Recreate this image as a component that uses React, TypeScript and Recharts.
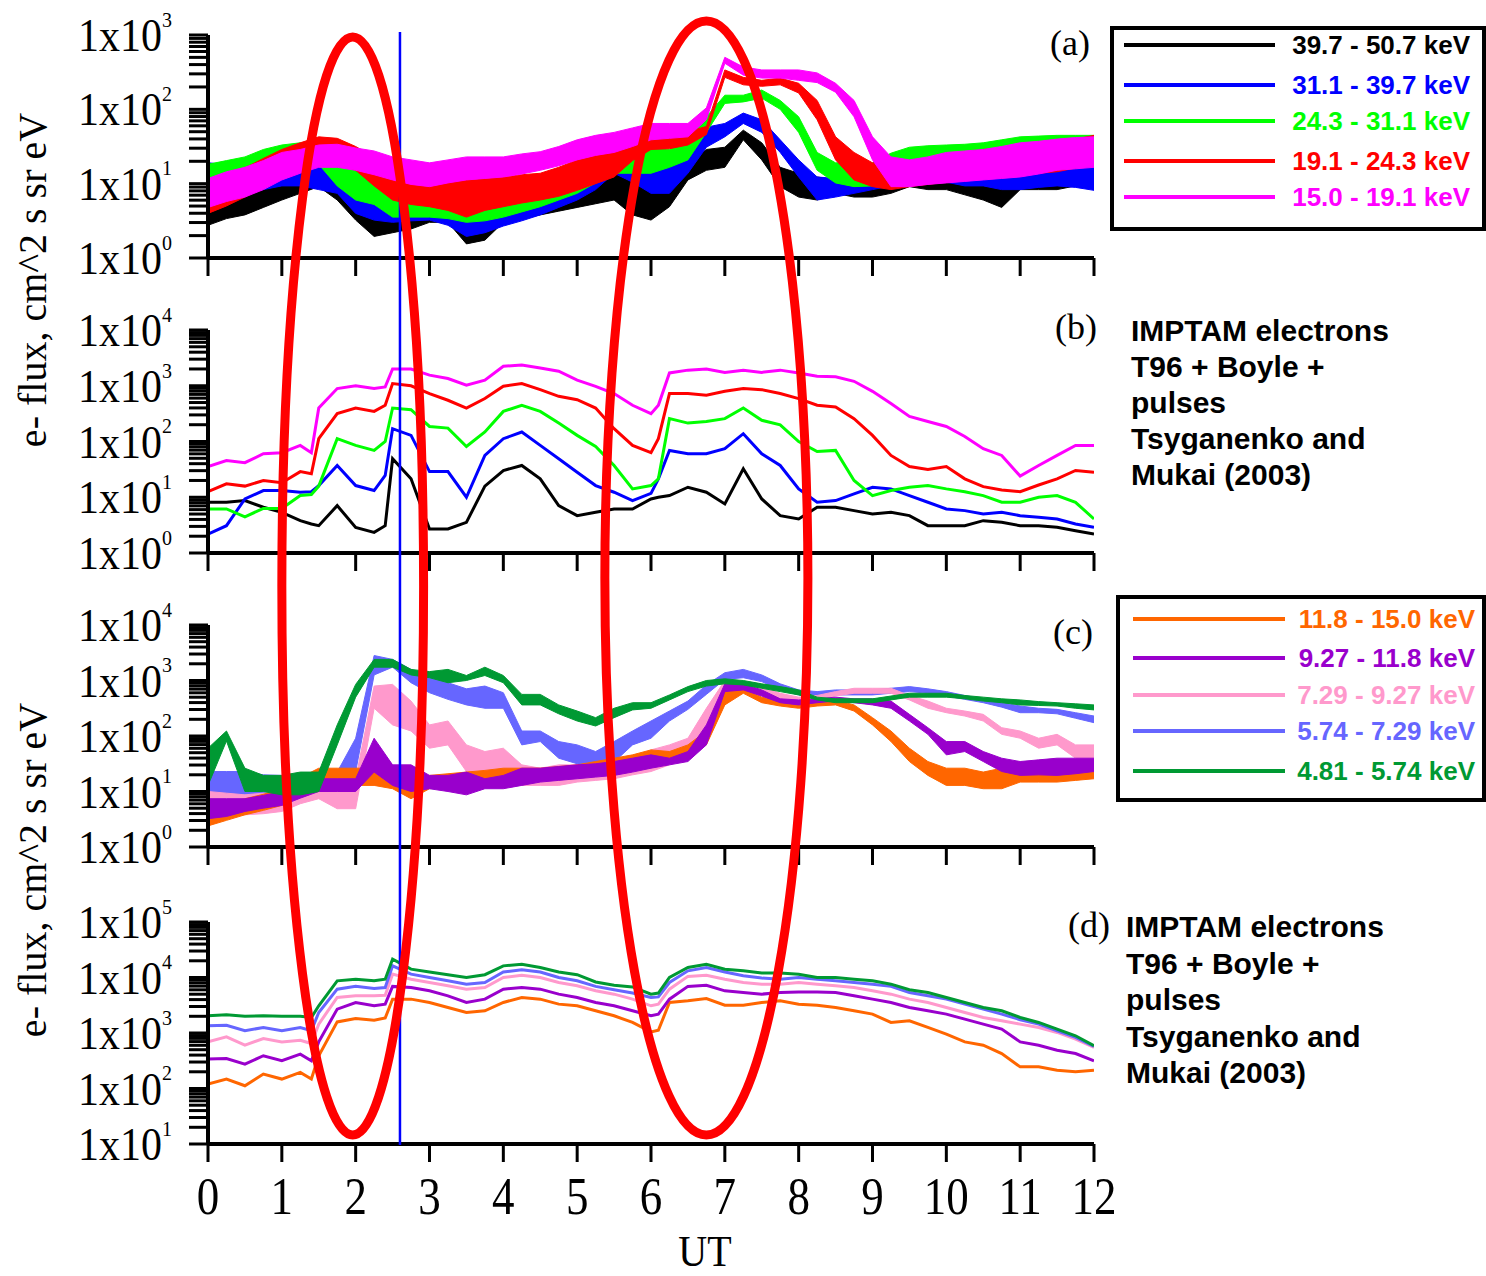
import React from "react";
import { Area, ComposedChart, Legend, Line, XAxis, YAxis } from "recharts";

const SERIF = "'Liberation Serif', 'Times New Roman', serif";
const SANS = "'Liberation Sans', Arial, sans-serif";

const PAGE_W = 1486;
const PAGE_H = 1276;
const PLOT_L = 208;
const PLOT_R = 1094;

const utTicks = [0, 1, 2, 3, 4, 5, 6, 7, 8, 9, 10, 11, 12];
const decadesA = [0, 1, 2, 3];
const decadesB = [0, 1, 2, 3, 4];
const decadesC = [0, 1, 2, 3, 4];
const decadesD = [1, 2, 3, 4, 5];

// sample times, UT hours
const hoursAC = [
  0, 0.25, 0.5, 0.75, 1, 1.25, 1.5, 1.75, 2, 2.25, 2.5, 2.75, 3, 3.25, 3.5, 3.75,
  4, 4.25, 4.5, 4.75, 5, 5.25, 5.5, 5.75, 6, 6.25, 6.5, 6.75, 7, 7.25, 7.5, 7.75,
  8, 8.25, 8.5, 8.75, 9, 9.25, 9.5, 9.75, 10, 10.25, 10.5, 10.75, 11, 11.25, 11.5, 11.75, 12,
];
const hoursBD = [
  0, 0.25, 0.5, 0.75, 1, 1.25, 1.4, 1.5, 1.75, 2, 2.25, 2.4, 2.5, 2.75,
  3, 3.25, 3.5, 3.75, 4, 4.25, 4.5, 4.75, 5, 5.25, 5.5, 5.75, 6, 6.1, 6.25, 6.5, 6.75,
  7, 7.25, 7.5, 7.75, 8, 8.25, 8.5, 8.75, 9, 9.25, 9.5, 9.75, 10, 10.25, 10.5, 10.75,
  11, 11.25, 11.5, 11.75, 12,
];

// All flux values are log10(flux).
// Measured traces are noisy, so they are kept as a lower / upper edge pair.

// (a) measured, 15 - 50.7 keV
const aBlkLo = [0.44,0.53,0.58,0.68, 0.78,0.87,0.96,0.78, 0.51,0.29,0.34,0.39, 0.48,0.48,0.19,0.24, 0.48,0.53,0.58,0.63, 0.68,0.73,0.78,0.58, 0.51,0.69,1.05,1.18, 1.22,1.59,1.32,0.96, 0.82,0.78,0.87,0.82, 0.82,0.87,0.96,0.92, 0.92,0.85,0.78,0.68, 0.92,0.92,0.92,0.97, 1.02];
const aBlkHi = [0.92,0.95,0.97,0.99, 1.02,1.09,1.14,1.09, 1.05,0.87,0.78,0.78, 0.78,0.68,0.6,0.6, 0.68,0.78,0.87,0.92, 0.97,1.07,1.16,1.07, 1.01,1.01,1.28,1.46, 1.49,1.72,1.55,1.22, 1.14,1.09,1.05,1.07, 1.07,1.12,1.14,1.12, 1.09,1.09,1.09,1.12, 1.18,1.2,1.21,1.24, 1.26];
const aBluLo = [1.02,0.97,0.87,0.92, 0.97,0.97,0.92,0.87, 0.6,0.51,0.48,0.5, 0.51,0.44,0.29,0.34, 0.43,0.5,0.58,0.68, 0.78,0.92,1.14,1.02, 0.87,0.87,1.14,1.49, 1.63,1.81,1.69,1.42, 1.09,0.78,0.82,0.87, 0.92,0.97,1.02,1.02, 1.02,0.97,0.97,0.92, 0.92,0.95,0.97,0.95, 0.91];
const aBluHi = [1.28,1.26,1.26,1.31, 1.36,1.34,1.31,1.18, 1.09,0.96,0.87,0.82, 0.78,0.78,0.78,0.8, 0.82,0.89,0.97,1.07, 1.16,1.26,1.42,1.36, 1.28,1.24,1.49,1.76, 1.81,1.95,1.86,1.59, 1.32,1.09,1.07,1.16, 1.26,1.36,1.41,1.38, 1.36,1.32,1.26,1.26, 1.26,1.26,1.26,1.28, 1.28];
const aGrnLo = [0.78,0.82,0.87,1.02, 1.16,1.21,1.26,0.97, 0.78,0.72,0.55,0.55, 0.55,0.53,0.48,0.5, 0.55,0.62,0.69,0.78, 0.87,1.01,1.14,1.14, 1.14,1.22,1.32,1.69, 2.08,2.1,2.15,2.0, 1.69,1.18,1.01,0.96, 0.97,1.07,1.22,1.26, 1.32,1.3,1.26,1.34, 1.41,1.41,1.41,1.38, 1.36];
const aGrnHi = [1.26,1.31,1.36,1.46, 1.52,1.55,1.55,1.41, 1.18,1.14,1.01,0.97, 0.97,0.96,0.96,0.97, 1.01,1.03,1.05,1.16, 1.32,1.41,1.49,1.49, 1.49,1.46,1.59,1.9, 2.19,2.19,2.26,2.12, 1.9,1.42,1.28,1.28, 1.28,1.41,1.49,1.51, 1.52,1.53,1.55,1.59, 1.63,1.64,1.65,1.65, 1.65];
const aRedLo = [0.6,0.7,0.82,0.95, 1.07,1.16,1.26,1.26, 1.18,0.97,0.78,0.72, 0.69,0.64,0.55,0.64, 0.69,0.74,0.78,0.83, 0.91,1.0,1.09,1.31, 1.46,1.47,1.52,1.66, 2.43,2.33,2.31,2.33, 2.22,1.86,1.32,1.05, 0.96,0.92,0.96,0.99, 1.02,1.05,1.07,1.09, 1.12,1.14,1.16,1.21, 1.26];
const aRedHi = [1.02,1.12,1.21,1.34, 1.46,1.55,1.63,1.61, 1.5,1.36,1.22,1.12, 1.05,1.07,1.05,1.07, 1.09,1.12,1.14,1.22, 1.32,1.41,1.49,1.6, 1.69,1.69,1.7,1.77, 2.53,2.43,2.39,2.42, 2.35,2.12,1.63,1.42, 1.28,1.28,1.28,1.32, 1.36,1.41,1.46,1.47, 1.5,1.53,1.55,1.6, 1.65];
const aMagLo = [0.68,0.76,0.82,0.92, 1.05,1.14,1.22,1.22, 1.18,1.12,1.05,0.99, 0.96,1.01,1.05,1.07, 1.09,1.13,1.18,1.24, 1.32,1.38,1.42,1.5, 1.59,1.61,1.63,1.86, 2.62,2.46,2.42,2.42, 2.39,2.36,2.23,1.9, 1.32,0.96,0.96,0.99, 1.01,1.03,1.05,1.07, 1.09,1.13,1.18,1.2, 1.22];
const aMagHi = [1.07,1.16,1.22,1.31, 1.42,1.46,1.52,1.53, 1.48,1.44,1.36,1.32, 1.28,1.32,1.36,1.36, 1.36,1.4,1.43,1.5, 1.59,1.65,1.69,1.75, 1.81,1.81,1.81,2.02, 2.7,2.57,2.53,2.53, 2.53,2.49,2.35,2.12, 1.63,1.36,1.32,1.36, 1.42,1.44,1.46,1.5, 1.55,1.57,1.6,1.62, 1.63];

// (b) IMPTAM model, same channels
const bBlk = [0.91,0.91,0.94,0.82,0.73,0.58, 0.52,0.49,0.85, 0.46,0.37,0.49,1.69,1.33, 0.43,0.43,0.55,1.2, 1.48,1.57,1.33,0.85, 0.67,0.73,0.79,0.79, 0.97,1.0,1.03,1.18,1.09, 0.88,1.51,0.97,0.67, 0.61,0.82,0.82,0.76, 0.7,0.73,0.67,0.49, 0.49,0.49,0.58,0.55, 0.49,0.49,0.46,0.4, 0.34];
const bBlu = [0.34,0.49,0.97,1.12,1.12,1.09, 1.1,1.21,1.57, 1.21,1.12,1.39,2.23,2.11, 1.46,1.46,1.0,1.75, 2.05,2.17,1.93,1.69, 1.45,1.21,1.09,0.94, 1.07,1.33,1.84,1.78,1.78, 1.87,2.14,1.78,1.57, 1.15,0.91,0.94,1.06, 1.18,1.15,1.03,0.91, 0.79,0.76,0.7,0.73, 0.67,0.64,0.61,0.52, 0.46];
const bGrn = [0.79,0.79,0.65,0.8,0.8,1.03, 1.05,1.2,2.05, 1.93,1.84,2.0,2.6,2.57, 2.27,2.24,1.91,2.17, 2.54,2.65,2.54,2.33, 2.11,1.91,1.57,1.15, 1.21,1.33,2.41,2.33,2.36, 2.41,2.6,2.38,2.3, 2.0,1.82,1.84,1.3, 1.03,1.12,1.18,1.21, 1.15,1.1,1.03,0.91, 0.91,1.0,1.03,0.91, 0.61];
const bRed = [1.1,1.24,1.2,1.3,1.26,1.46, 1.42,2.05,2.5, 2.6,2.54,2.65,3.04,3.0, 2.86,2.74,2.6,2.77, 2.99,3.04,2.93,2.81, 2.75,2.6,2.23,1.93, 1.8,2.05,2.86,2.86,2.83, 2.9,2.95,2.93,2.86, 2.77,2.65,2.62,2.41, 2.11,1.75,1.55,1.5, 1.55,1.33,1.19,1.13, 1.1,1.22,1.33,1.48, 1.45];
const bMag = [1.55,1.66,1.62,1.78,1.8,1.93, 1.8,2.6,2.95, 3.0,2.95,2.98,3.3,3.3, 3.19,3.13,3.01,3.1, 3.35,3.37,3.32,3.26, 3.1,2.99,2.86,2.65, 2.5,2.65,3.23,3.28,3.3, 3.24,3.28,3.24,3.28, 3.23,3.17,3.16,3.08, 2.9,2.68,2.45,2.36, 2.27,2.09,1.87,1.75, 1.38,1.57,1.75,1.93, 1.93];

// (c) measured, 4.81 - 15.0 keV
const cOrgLo = [0.38,0.48,0.58,0.66, 0.75,0.95,1.11,1.11, 1.11,1.11,1.05,0.87, 1.05,1.08,1.11,1.14, 1.17,1.18,1.2,1.23, 1.26,1.3,1.36,1.42, 1.54,1.54,1.6,1.84, 2.56,2.77,2.6,2.54, 2.5,2.54,2.56,2.45, 2.2,1.9,1.54,1.29, 1.11,1.11,1.05,1.05, 1.17,1.17,1.17,1.2, 1.23];
const cOrgHi = [0.75,0.8,0.87,0.95, 1.05,1.25,1.42,1.42, 1.42,1.42,1.35,1.23, 1.29,1.32,1.35,1.38, 1.42,1.42,1.42,1.45, 1.48,1.54,1.6,1.66, 1.75,1.72,1.84,2.09, 2.87,2.86,2.7,2.63, 2.6,2.63,2.65,2.56, 2.33,2.09,1.78,1.54, 1.42,1.42,1.35,1.42, 1.42,1.42,1.42,1.44, 1.45];
const cPurLo = [0.51,0.55,0.64,0.7, 0.75,0.88,1.0,1.0, 1.0,1.35,1.11,1.0, 1.05,1.0,0.94,1.05, 1.05,1.11,1.17,1.2, 1.23,1.26,1.29,1.35, 1.42,1.48,1.54,1.84, 2.8,2.83,2.72,2.6, 2.56,2.6,2.63,2.6, 2.56,2.5,2.27,2.03, 1.66,1.72,1.54,1.36, 1.29,1.3,1.29,1.32, 1.36];
const cPurHi = [0.87,0.87,0.87,0.93, 1.0,1.12,1.23,1.23, 1.23,1.96,1.48,1.48, 1.29,1.29,1.35,1.23, 1.29,1.42,1.42,1.45, 1.48,1.5,1.54,1.6, 1.66,1.6,1.72,2.2, 2.94,2.94,2.83,2.67, 2.65,2.67,2.7,2.67, 2.67,2.63,2.39,2.15, 1.9,1.9,1.72,1.6, 1.54,1.57,1.6,1.6, 1.6];
const cPnkLo = [0.51,0.55,0.58,0.6, 0.64,0.78,0.87,0.69, 0.69,2.5,2.2,2.09, 1.78,1.84,1.36,1.23, 1.3,1.11,1.11,1.11, 1.17,1.2,1.23,1.3, 1.36,1.48,1.6,1.96, 2.86,2.83,2.77,2.65, 2.63,2.65,2.72,2.77, 2.77,2.77,2.65,2.5, 2.42,2.36,2.27,2.03, 1.96,1.78,1.84,1.6, 1.6];
const cPnkHi = [1.0,0.97,0.94,0.97, 1.0,1.15,1.29,1.11, 1.23,2.9,2.93,2.63, 2.2,2.27,1.84,1.72, 1.78,1.48,1.42,1.48, 1.48,1.5,1.54,1.6, 1.75,1.84,1.96,2.5, 3.0,2.94,2.89,2.77, 2.7,2.73,2.8,2.86, 2.86,2.86,2.73,2.63, 2.5,2.45,2.39,2.15, 2.09,1.96,2.03,1.84, 1.84];
const cPerLo = [0.87,0.9,0.94,0.9, 0.87,0.95,1.0,1.05, 1.36,3.1,3.24,2.96, 2.78,2.66,2.56,2.5, 2.5,1.84,1.9,1.6, 1.5,1.36,1.53,1.84, 1.96,2.27,2.48,2.75, 3.02,3.05,2.98,2.83, 2.74,2.72,2.74,2.74, 2.74,2.77,2.8,2.77, 2.72,2.66,2.6,2.52, 2.42,2.42,2.4,2.32, 2.24];
const cPerHi = [1.36,1.36,1.36,1.3, 1.29,1.32,1.35,1.35, 1.96,3.45,3.38,3.2, 3.05,2.96,2.85,2.9, 2.78,2.09,2.09,1.9, 1.84,1.72,1.9,2.09, 2.27,2.45,2.63,2.92, 3.14,3.2,3.1,2.94, 2.83,2.8,2.83,2.83, 2.83,2.86,2.89,2.85, 2.8,2.73,2.67,2.6, 2.54,2.5,2.48,2.42, 2.36];
const cGrnLo = [1.11,1.91,1.0,1.0, 0.94,0.94,1.0,1.84, 2.7,3.24,3.24,3.1, 3.05,2.96,3.0,3.09, 2.96,2.56,2.56,2.4, 2.27,2.18,2.33,2.47, 2.5,2.65,2.8,2.9, 2.94,2.92,2.86,2.8, 2.74,2.65,2.6,2.6, 2.6,2.65,2.7,2.7, 2.7,2.67,2.63,2.6, 2.56,2.55,2.54,2.5, 2.47];
const cGrnHi = [1.78,2.09,1.42,1.29, 1.29,1.35,1.35,2.2, 2.93,3.38,3.38,3.2, 3.16,3.2,3.09,3.24, 3.09,2.75,2.75,2.56, 2.45,2.33,2.5,2.6, 2.6,2.74,2.89,3.0, 3.03,3.0,2.94,2.89, 2.83,2.7,2.67,2.67, 2.67,2.72,2.77,2.77, 2.77,2.73,2.7,2.67, 2.65,2.62,2.6,2.58, 2.56];

// (d) IMPTAM model, same channels
const dOrg = [2.08,2.17,2.05,2.26,2.17,2.29, 2.17,2.59,3.2, 3.26,3.23,3.27,3.61,3.61, 3.55,3.46,3.37,3.4, 3.55,3.64,3.61,3.52, 3.49,3.4,3.31,3.19, 3.02,3.05,3.55,3.58,3.62, 3.5,3.5,3.55,3.58, 3.52,3.5,3.46,3.4, 3.34,3.19,3.22,3.1, 2.98,2.84,2.78,2.63, 2.39,2.39,2.33,2.3, 2.33];
const dPur = [2.53,2.54,2.44,2.59,2.5,2.62, 2.5,2.84,3.43, 3.55,3.49,3.52,3.84,3.82, 3.76,3.67,3.55,3.61, 3.79,3.82,3.79,3.7, 3.64,3.55,3.49,3.4, 3.31,3.34,3.61,3.84,3.86, 3.76,3.73,3.7,3.73, 3.74,3.74,3.73,3.67, 3.61,3.55,3.46,3.4, 3.34,3.25,3.16,3.07, 2.84,2.78,2.69,2.63, 2.5];
const dPnk = [2.84,2.93,2.78,2.9,2.84,2.87, 2.81,3.16,3.64, 3.67,3.67,3.68,4.06,3.97, 3.91,3.85,3.79,3.82, 4.0,4.04,4.0,3.91, 3.85,3.76,3.7,3.61, 3.49,3.52,3.79,4.02,4.04, 3.97,3.91,3.88,3.88, 3.91,3.88,3.85,3.82, 3.76,3.7,3.61,3.55, 3.46,3.37,3.28,3.22, 3.16,3.1,3.01,2.89, 2.74];
const dPer = [3.13,3.14,3.04,3.1,3.04,3.1, 3.04,3.37,3.79, 3.84,3.8,3.82,4.21,4.06, 4.0,3.94,3.88,3.91, 4.1,4.14,4.1,4.0, 3.94,3.84,3.78,3.72, 3.64,3.65,3.91,4.12,4.18, 4.1,4.03,3.99,3.97, 4.0,3.97,3.94,3.91, 3.88,3.84,3.73,3.67, 3.61,3.52,3.43,3.34, 3.24,3.16,3.04,2.92, 2.76];
const dGrn = [3.31,3.33,3.3,3.31,3.3,3.3, 3.28,3.49,3.94, 3.97,3.94,3.97,4.33,4.15, 4.1,4.05,4.0,4.05, 4.21,4.24,4.18,4.1, 4.05,3.92,3.86,3.83, 3.7,3.72,4.0,4.18,4.24, 4.15,4.12,4.08,4.08, 4.06,4.0,4.0,3.97, 3.94,3.88,3.78,3.73, 3.64,3.55,3.46,3.4, 3.28,3.19,3.07,2.95, 2.77];

const highChannels = [
  { key: "k39", name: "39.7 - 50.7 keV", color: "#000000", lo: aBlkLo, hi: aBlkHi, model: bBlk },
  { key: "k31", name: "31.1 - 39.7 keV", color: "#0000ff", lo: aBluLo, hi: aBluHi, model: bBlu },
  { key: "k24", name: "24.3 - 31.1 keV", color: "#00ff00", lo: aGrnLo, hi: aGrnHi, model: bGrn },
  { key: "k19", name: "19.1 - 24.3 keV", color: "#ff0000", lo: aRedLo, hi: aRedHi, model: bRed },
  { key: "k15", name: "15.0 - 19.1 keV", color: "#ff00ff", lo: aMagLo, hi: aMagHi, model: bMag },
];
const lowChannels = [
  { key: "k11", name: "11.8 - 15.0 keV", color: "#ff6600", lo: cOrgLo, hi: cOrgHi, model: dOrg },
  { key: "k9", name: "9.27 - 11.8 keV", color: "#9900cc", lo: cPurLo, hi: cPurHi, model: dPur },
  { key: "k7", name: "7.29 - 9.27 keV", color: "#ff99cc", lo: cPnkLo, hi: cPnkHi, model: dPnk },
  { key: "k5", name: "5.74 - 7.29 keV", color: "#6666ff", lo: cPerLo, hi: cPerHi, model: dPer },
  { key: "k4", name: "4.81 - 5.74 keV", color: "#009933", lo: cGrnLo, hi: cGrnHi, model: dGrn },
];
const lowDrawOrder = ["k5", "k7", "k11", "k9", "k4"];

const modelNote = ["IMPTAM electrons", "T96 + Boyle +", "pulses", "Tsyganenko and", "Mukai (2003)"];
const yTitle = "e- flux, cm^2 s sr eV";

type Channel = (typeof highChannels)[number];

function bandRows(hours: number[], chans: Channel[]) {
  return hours.map((t, i) => {
    const row: Record<string, any> = { t };
    chans.forEach((c) => {
      row[c.key] = [10 ** c.lo[i], 10 ** c.hi[i]];
    });
    return row;
  });
}

function modelRows(hours: number[], chans: Channel[]) {
  return hours.map((t, i) => {
    const row: Record<string, any> = { t };
    chans.forEach((c) => {
      row[c.key] = 10 ** c.model[i];
    });
    return row;
  });
}

function logTicks(decades: number[]) {
  const out: number[] = [];
  decades.forEach((d, i) => {
    out.push(10 ** d);
    if (i < decades.length - 1) for (let k = 2; k <= 9; k++) out.push(k * 10 ** d);
  });
  return out;
}

function LogTick(props: any) {
  const { x, y, payload } = props;
  const lg = Math.log10(payload.value);
  const e = Math.round(lg);
  const major = Math.abs(lg - e) < 1e-9;
  return (
    <g>
      <line x1={x - 19} x2={x} y1={y} y2={y} stroke="#000" strokeWidth={3} />
      {major && (
        <text
          transform={`translate(${x - 36},${y + 16}) scale(1,1.1)`}
          textAnchor="end"
          fontFamily={SERIF}
          fontSize={42}
          fill="#000"
        >
          1x10
          <tspan dy={-22} fontSize={20}>
            {e}
          </tspan>
        </text>
      )}
    </g>
  );
}

function UtTick(props: any) {
  const { x, y, payload } = props;
  return (
    <text
      transform={`translate(${x},${y + 52}) scale(1,1.15)`}
      textAnchor="middle"
      fontFamily={SERIF}
      fontSize={45}
      fill="#000"
    >
      {payload.value}
    </text>
  );
}

const NoTick = () => <g />;

type LegendSpec = {
  left: number;
  top: number;
  width: number;
  height: number;
  rowY: number[];
  lineLeft: number;
  lineWidth: number;
  textRight: number;
  items: Channel[];
};

function LegendBox({ spec }: { spec: LegendSpec }) {
  return (
    <div
      style={{
        position: "relative",
        width: spec.width,
        height: spec.height,
        boxSizing: "border-box",
        border: "4px solid #000",
        background: "#fff",
      }}
    >
      {spec.items.map((it, i) => (
        <React.Fragment key={it.key}>
          <div
            style={{
              position: "absolute",
              left: spec.lineLeft,
              top: spec.rowY[i] - 2,
              width: spec.lineWidth,
              height: 4,
              background: it.color,
            }}
          />
          <div
            style={{
              position: "absolute",
              right: spec.textRight,
              top: spec.rowY[i] - 16,
              height: 32,
              lineHeight: "32px",
              fontFamily: SANS,
              fontWeight: 700,
              fontSize: 26,
              color: it.color,
              whiteSpace: "nowrap",
            }}
          >
            {it.name}
          </div>
        </React.Fragment>
      ))}
    </div>
  );
}

function Panel({
  plotTop,
  plotHeight,
  decades,
  data,
  showX,
  legend,
  children,
}: {
  plotTop: number;
  plotHeight: number;
  decades: number[];
  data: any[];
  showX?: boolean;
  legend?: LegendSpec;
  children: React.ReactNode;
}) {
  const mt = 34;
  const xh = showX ? 100 : 40;
  const chartTop = plotTop - mt;
  return (
    <div style={{ position: "absolute", left: 0, top: chartTop }}>
      <ComposedChart
        width={PAGE_W}
        height={mt + plotHeight + xh}
        data={data}
        margin={{ top: mt, right: PAGE_W - PLOT_R, bottom: 0, left: 0 }}
      >
        <XAxis
          dataKey="t"
          type="number"
          domain={[0, 12]}
          ticks={utTicks}
          interval={0}
          allowDataOverflow
          height={xh}
          tickSize={18}
          tickMargin={0}
          tickLine={{ stroke: "#000", strokeWidth: 3 }}
          axisLine={{ stroke: "#000", strokeWidth: 4 }}
          tick={showX ? UtTick : NoTick}
        />
        <YAxis
          type="number"
          scale="log"
          domain={[10 ** decades[0], 10 ** decades[decades.length - 1]]}
          ticks={logTicks(decades)}
          interval={0}
          allowDataOverflow
          width={PLOT_L}
          tickSize={0}
          tickMargin={0}
          tickLine={false}
          axisLine={{ stroke: "#000", strokeWidth: 4 }}
          tick={LogTick}
        />
        {children}
        {legend && (
          <Legend
            layout="vertical"
            align="center"
            verticalAlign="middle"
            wrapperStyle={{
              position: "absolute",
              left: legend.left,
              top: legend.top - chartTop,
              width: legend.width,
              height: legend.height,
            }}
            content={() => <LegendBox spec={legend} />}
          />
        )}
      </ComposedChart>
    </div>
  );
}

const xOf = (t: number) => PLOT_L + (t * (PLOT_R - PLOT_L)) / 12;
const markerUT = 2.6;
const circled = [
  { t: 1.96, halfHours: 0.96, cy: 586, ry: 549 },
  { t: 6.75, halfHours: 1.375, cy: 578, ry: 557 },
];

export default function App() {
  const rowsA = bandRows(hoursAC, highChannels);
  const rowsB = modelRows(hoursBD, highChannels);
  const rowsC = bandRows(hoursAC, lowChannels);
  const rowsD = modelRows(hoursBD, lowChannels);
  const lowDraw = lowDrawOrder.map((k) => lowChannels.find((c) => c.key === k)!);

  const legendA: LegendSpec = {
    left: 1110, top: 26, width: 376, height: 205,
    rowY: [15, 55, 91, 131, 167], lineLeft: 10, lineWidth: 151, textRight: 12,
    items: highChannels,
  };
  const legendC: LegendSpec = {
    left: 1116, top: 595, width: 370, height: 207,
    rowY: [20, 59, 96, 132, 172], lineLeft: 13, lineWidth: 152, textRight: 7,
    items: lowChannels,
  };

  return (
    <div style={{ position: "absolute", left: 0, top: 0, width: PAGE_W, height: PAGE_H, background: "#fff" }}>
      <Panel plotTop={35} plotHeight={223} decades={decadesA} data={rowsA} legend={legendA}>
        {highChannels.map((c) => (
          <Area
            key={c.key}
            type="linear"
            dataKey={c.key}
            name={c.name}
            stroke={c.color}
            strokeWidth={1}
            fill={c.color}
            fillOpacity={1}
            dot={false}
            activeDot={false}
            isAnimationActive={false}
          />
        ))}
      </Panel>
      <Panel plotTop={330} plotHeight={223} decades={decadesB} data={rowsB}>
        {highChannels.map((c) => (
          <Line
            key={c.key}
            type="linear"
            dataKey={c.key}
            name={c.name}
            stroke={c.color}
            strokeWidth={3}
            dot={false}
            activeDot={false}
            isAnimationActive={false}
          />
        ))}
      </Panel>
      <Panel plotTop={625} plotHeight={222} decades={decadesC} data={rowsC} legend={legendC}>
        {lowDraw.map((c) => (
          <Area
            key={c.key}
            type="linear"
            dataKey={c.key}
            name={c.name}
            stroke={c.color}
            strokeWidth={1}
            fill={c.color}
            fillOpacity={1}
            dot={false}
            activeDot={false}
            isAnimationActive={false}
          />
        ))}
      </Panel>
      <Panel plotTop={922} plotHeight={222} decades={decadesD} data={rowsD} showX>
        {lowChannels.map((c) => (
          <Line
            key={c.key}
            type="linear"
            dataKey={c.key}
            name={c.name}
            stroke={c.color}
            strokeWidth={3}
            dot={false}
            activeDot={false}
            isAnimationActive={false}
          />
        ))}
      </Panel>

      <svg
        width={PAGE_W}
        height={PAGE_H}
        style={{ position: "absolute", left: 0, top: 0, pointerEvents: "none" }}
      >
        <line x1={xOf(markerUT)} x2={xOf(markerUT)} y1={32} y2={1145} stroke="#0000ff" strokeWidth={2.5} />
        {circled.map((c, i) => (
          <ellipse
            key={i}
            cx={xOf(c.t)}
            cy={c.cy}
            rx={(c.halfHours * (PLOT_R - PLOT_L)) / 12}
            ry={c.ry}
            fill="none"
            stroke="#ff0000"
            strokeWidth={9}
          />
        ))}

        {[280, 870].map((cy) => (
          <text
            key={cy}
            transform={`translate(46,${cy}) rotate(-90)`}
            textAnchor="middle"
            fontFamily={SERIF}
            fontSize={40}
            fill="#000"
          >
            {yTitle}
          </text>
        ))}

        <text x={1090} y={55} textAnchor="end" fontFamily={SERIF} fontSize={36} fill="#000">(a)</text>
        <text x={1097} y={339} textAnchor="end" fontFamily={SERIF} fontSize={36} fill="#000">(b)</text>
        <text x={1093} y={644} textAnchor="end" fontFamily={SERIF} fontSize={36} fill="#000">(c)</text>
        <text x={1110} y={937} textAnchor="end" fontFamily={SERIF} fontSize={36} fill="#000">(d)</text>

        {modelNote.map((s, i) => (
          <text key={"b" + i} x={1131} y={341 + i * 36} fontFamily={SANS} fontWeight={700} fontSize={30} fill="#000">
            {s}
          </text>
        ))}
        {modelNote.map((s, i) => (
          <text key={"d" + i} x={1126} y={937 + i * 36.5} fontFamily={SANS} fontWeight={700} fontSize={30} fill="#000">
            {s}
          </text>
        ))}

        <text
          transform={`translate(705,1266) scale(1,1.1)`}
          textAnchor="middle"
          fontFamily={SERIF}
          fontSize={40}
          fill="#000"
        >
          UT
        </text>
      </svg>
    </div>
  );
}
